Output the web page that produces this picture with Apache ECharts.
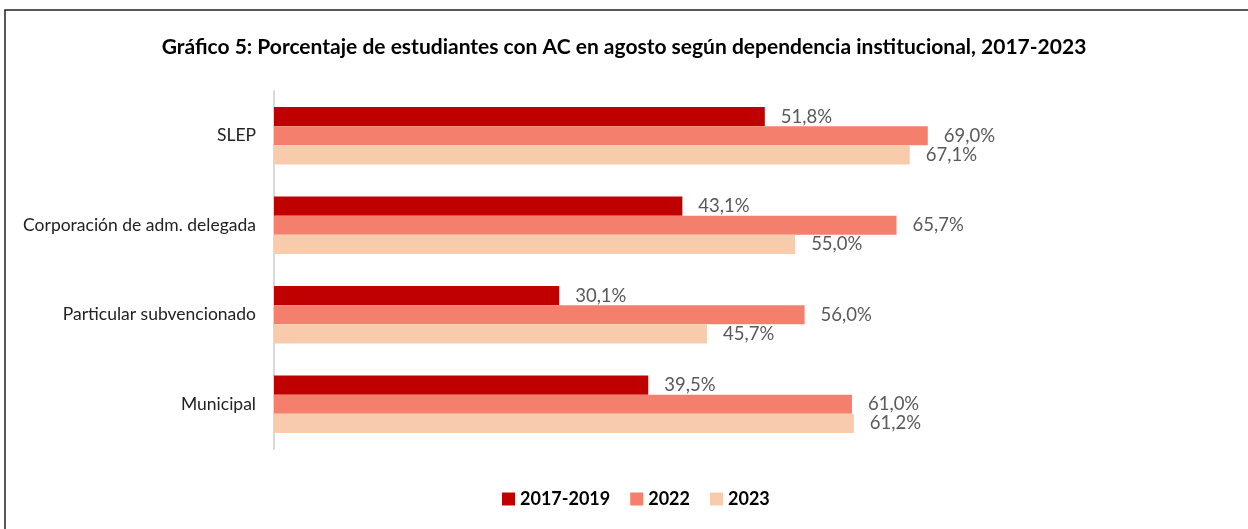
<!DOCTYPE html>
<html>
<head>
<meta charset="utf-8">
<script src="https://cdn.jsdelivr.net/npm/echarts@6/dist/echarts.min.js"></script>
<style>
  html, body { margin: 0; padding: 0; background: #fff; }
  #chart { width: 1248px; height: 529px; }
</style>
</head>
<body>
<div id="chart"></div>
<script>
// categorias (de arriba hacia abajo)
const categorias = ["SLEP", "Corporación de adm. delegada", "Particular subvencionado", "Municipal"];
// series por periodo
const periodos = ["2017-2019", "2022", "2023"];
const valores2017_2019 = [51.8, 43.1, 30.1, 39.5];
const valores2022 = [69.0, 65.7, 56.0, 61.0];
const valores2023 = [67.1, 55.0, 45.7, 61.2];
const colores = ["#C00000", "#F37F6C", "#F8CBAD"];

const FONT = "Lato";

// formato con coma decimal
const fmt = (v) => v.toFixed(1).replace(".", ",") + "%";

const chart = echarts.init(document.getElementById("chart"));

const mkSerie = (nombre, datos, color) => ({
  name: nombre,
  type: "bar",
  data: datos,
  barGap: "0%",
  barCategoryGap: "36%",
  itemStyle: { color: color },
  label: {
    show: true,
    position: "right",
    distance: 16,
    color: "#595959",
    fontFamily: FONT,
    fontSize: 18.5,
    formatter: (p) => fmt(p.value),
  },
});

chart.setOption({
  animation: false,
  backgroundColor: "#fff",
  textStyle: { fontFamily: FONT },
  title: {
    text: "Gráfico 5: Porcentaje de estudiantes con AC en agosto según dependencia institucional, 2017-2023",
    left: "center",
    top: 32,
    textStyle: { fontFamily: FONT, fontWeight: "bold", fontSize: 21, color: "#000" },
  },
  // marco del gráfico
  graphic: [
    {
      type: "rect",
      shape: { x: 5, y: 10, width: 1400, height: 700 },
      style: { fill: "none", stroke: "#222", lineWidth: 1.5 },
      silent: true,
    },
  ],
  legend: {
    data: periodos,
    bottom: 16,
    left: 497,
    icon: "rect",
    itemWidth: 13,
    itemHeight: 13,
    itemGap: 20,
    itemStyle: { borderWidth: 0 },
    textStyle: { fontFamily: FONT, fontWeight: "bold", fontSize: 18, color: "#000" },
  },
  grid: { left: 274, top: 91, width: 758, height: 358, containLabel: false },
  xAxis: {
    type: "value",
    min: 0,
    max: 80,
    show: false,
  },
  yAxis: {
    type: "category",
    data: categorias,
    inverse: true,
    axisLine: { show: true, lineStyle: { color: "#D9D9D9", width: 2 } },
    axisTick: { show: false },
    axisLabel: { margin: 18, color: "#222", fontFamily: FONT, fontSize: 17.5 },
  },
  series: [
    mkSerie(periodos[0], valores2017_2019, colores[0]),
    mkSerie(periodos[1], valores2022, colores[1]),
    mkSerie(periodos[2], valores2023, colores[2]),
  ],
});
</script>
</body>
</html>
